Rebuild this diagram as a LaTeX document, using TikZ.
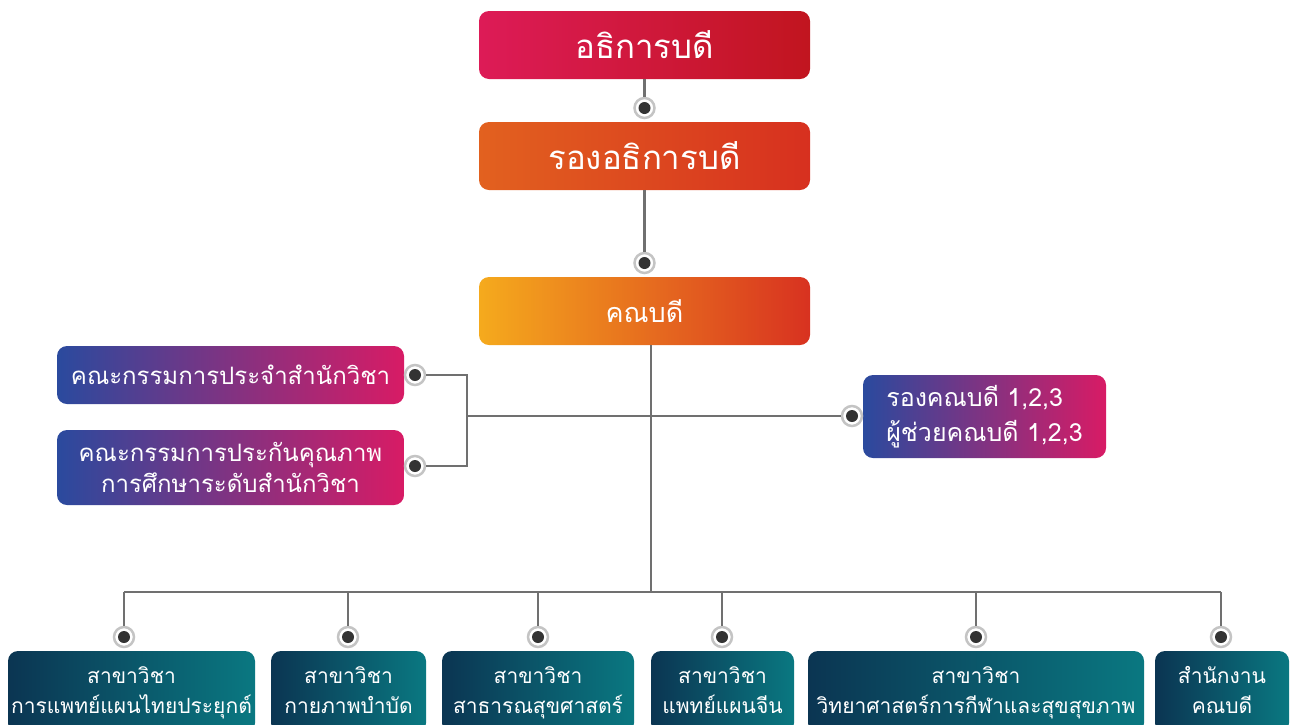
\documentclass[tikz,border=0pt]{standalone}
\usepackage{fontspec}
\setmainfont[Script=Thai]{Loma}
\usetikzlibrary{positioning}

\definecolor{rectorL}{HTML}{DD1B57}
\definecolor{rectorR}{HTML}{C1151F}
\definecolor{viceL}{HTML}{E2611F}
\definecolor{viceR}{HTML}{D7301F}
\definecolor{deanL}{HTML}{F5AA1D}
\definecolor{deanR}{HTML}{D83220}
\definecolor{boardL}{HTML}{2A4A9E}
\definecolor{boardR}{HTML}{D81B65}
\definecolor{unitL}{HTML}{0B3552}
\definecolor{unitR}{HTML}{0A7881}
\definecolor{wiregray}{HTML}{707070}
\definecolor{ringgray}{HTML}{C4C4C4}
\definecolor{pindark}{HTML}{333333}

\newcommand{\twolines}[2]{\strut#1\\\strut#2}

\tikzset{
  orgbox/.style={rounded corners=10pt, text=white, inner sep=0pt, align=center},
  topbox/.style={orgbox, minimum width=331pt, minimum height=68pt},
  boardbox/.style={orgbox, left color=boardL, right color=boardR, minimum width=347pt},
  unitbox/.style={orgbox, left color=unitL, right color=unitR, minimum height=82pt,
    font=\fontsize{21}{30}\selectfont},
  wire/.style={draw=wiregray, line width=2.5pt},
  pinnode/.style={circle, draw=ringgray, fill=white, line width=2.5pt, minimum size=20pt, inner sep=0pt,
    path picture={\fill[pindark] (path picture bounding box.center) circle (6pt);}}
}

\begin{document}
\begin{tikzpicture}[x=1pt,y=-1pt]

\path [use as bounding box] (0,0) rectangle (1292,724);

% TOP LEVELS
\node [topbox, left color=rectorL, right color=rectorR, font=\fontsize{33}{36}\selectfont] (rector) at (644.5,45) {อธิการบดี};
\node [topbox, left color=viceL, right color=viceR, font=\fontsize{33}{36}\selectfont] (vice) at (644.5,156) {รองอธิการบดี};
\node [topbox, left color=deanL, right color=deanR, font=\fontsize{27}{30}\selectfont] (dean) at (644.5,311) {คณบดี};

\node [pinnode] (p1) at (644.5,108) {};
\node [pinnode] (p2) at (644.5,263) {};

\draw [wire] (rector) -- (p1);
\draw [wire] (vice) -- (p2);

% BOARDS
\node [boardbox, minimum height=58pt, font=\fontsize{24}{31}\selectfont] (board) at (230.5,375) {คณะกรรมการประจำสำนักวิชา};
\node [boardbox, minimum height=75pt, font=\fontsize{24}{31}\selectfont] (quality) at (230.5,467.5) {คณะกรรมการประกันคุณภาพ\\การศึกษาระดับสำนักวิชา};
\node [orgbox, left color=boardL, right color=boardR, minimum width=243pt, minimum height=83pt,
  align=left, font=\fontsize{25}{35}\selectfont] (assoc) at (984.5,416.5) {รองคณบดี 1,2,3\\ผู้ช่วยคณบดี 1,2,3};

\node [pinnode] (pb) at (415,375) {};
\node [pinnode] (pq) at (415,466) {};
\node [pinnode] (pa) at (852,416) {};

\coordinate (fork) at (467,416);
\coordinate (bus) at (651,592);

\draw [wire] (pb) -| (fork) |- (pq);
\draw [wire] (fork) -- (pa);
\draw [wire] (dean.south -| bus) -- (bus);

% UNITS
\node [unitbox, minimum width=247pt] (u1) at (131.5,692) {\twolines{สาขาวิชา}{การแพทย์แผนไทยประยุกต์}};
\node [unitbox, minimum width=155pt] (u2) at (348.5,692) {\twolines{สาขาวิชา}{กายภาพบำบัด}};
\node [unitbox, minimum width=192pt] (u3) at (538,692) {\twolines{สาขาวิชา}{สาธารณสุขศาสตร์}};
\node [unitbox, minimum width=143pt] (u4) at (722.5,692) {\twolines{สาขาวิชา}{แพทย์แผนจีน}};
\node [unitbox, minimum width=336pt] (u5) at (976,692) {\twolines{สาขาวิชา}{วิทยาศาสตร์การกีฬาและสุขสุขภาพ}};
\node [unitbox, minimum width=134pt] (u6) at (1222,692) {\twolines{สำนักงาน}{คณบดี}};

\foreach \u/\x in {1/124,2/348,3/538,4/722,5/976,6/1221}
  \node [pinnode] (q\u) at (\x,637) {};

\draw [wire] (q1 |- bus) -- (q6 |- bus);
\foreach \u in {1,...,6}
  \draw [wire] (q\u |- bus) -- (q\u);

\end{tikzpicture}
\end{document}
